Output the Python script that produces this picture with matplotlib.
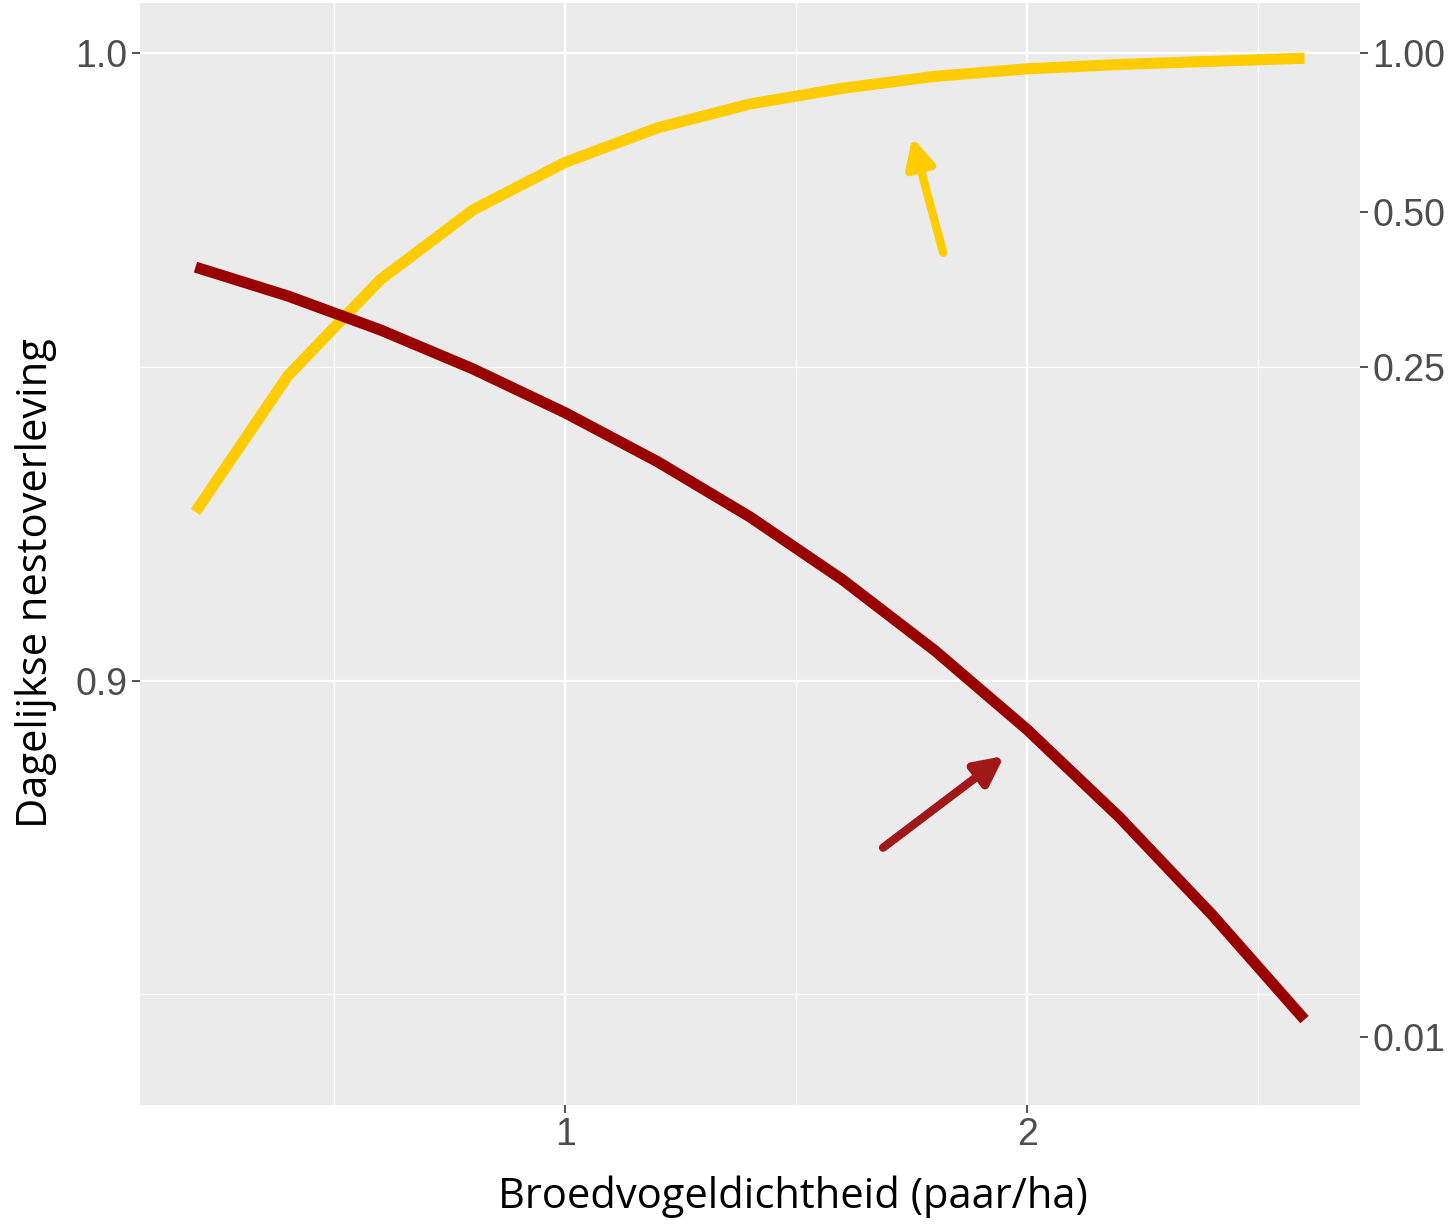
import numpy as np
import matplotlib.pyplot as plt

# dichtheid (paar/ha) en dagelijkse nestoverleving per lijn
dichtheid = [0.2, 0.4, 0.6, 0.8, 1.0, 1.2, 1.4, 1.6, 1.8, 2.0, 2.2, 2.4, 2.6]
geel = [0.9269, 0.9486, 0.9639, 0.9750, 0.9826, 0.9881, 0.9919,
        0.9944, 0.9963, 0.9975, 0.9982, 0.9987, 0.9992]
rood = [0.9659, 0.9613, 0.9559, 0.9497, 0.9427, 0.9349, 0.9261,
        0.9161, 0.9048, 0.8922, 0.8782, 0.8627, 0.8460]

# pijlen: (staart, punt)
pijl_geel = ((1.818, 0.9682), (1.751, 0.9866))
pijl_rood = ((1.688, 0.8734), (1.950, 0.8880))

links_ticks = [0.9, 1.0]
rechts_ticks = [0.01, 0.25, 0.50, 1.00]
exponent = 27  # rechter as = links ** 27

tekst_grijs = "#4D4D4D"

fig = plt.figure(figsize=(14.48, 12.25), dpi=100)
ax = fig.add_axes([0.0967, 0.098, 0.8425, 0.8996])
ax.set_facecolor("#EBEBEB")
for s in ax.spines.values():
    s.set_visible(False)

ax.set_xlim(0.08, 2.72)
ax.set_ylim(0.8324, 1.008)

ax.set_xticks([1, 2])
ax.set_xticks([0.5, 1.5, 2.5], minor=True)
ax.set_yticks(links_ticks)
ax.set_yticks([0.85, 0.95], minor=True)
ax.set_yticklabels(["0.9", "1.0"])
ax.grid(True, which="major", color="white", lw=1.6)
ax.grid(True, which="minor", color="white", lw=0.8)
ax.set_axisbelow(True)
ax.tick_params(which="major", length=6, width=1.2, color="#333333",
               labelsize=27, labelcolor=tekst_grijs, pad=3)
ax.tick_params(which="minor", length=0)
for lab in ax.get_xticklabels() + ax.get_yticklabels():
    lab.set_family("Liberation Sans")

ax.plot(dichtheid, geel, color="#FFCC00", lw=8, solid_capstyle="butt")
ax.plot(dichtheid, rood, color="#990000", lw=8, solid_capstyle="butt")

stijl = "-|>,head_length=1.7,head_width=0.85"
ax.annotate("", xy=pijl_geel[1], xytext=pijl_geel[0],
            arrowprops=dict(arrowstyle=stijl, color="#FFCC00", lw=6,
                            shrinkA=0, shrinkB=0))
ax.annotate("", xy=pijl_rood[1], xytext=pijl_rood[0],
            arrowprops=dict(arrowstyle=stijl, color="#A01818", lw=6,
                            shrinkA=0, shrinkB=0))

sec = ax.secondary_yaxis("right",
                         functions=(lambda v: np.clip(v, 1e-6, None) ** exponent,
                                    lambda v: np.clip(v, 1e-12, None) ** (1 / exponent)))
sec.set_yticks(rechts_ticks)
sec.set_yticklabels(["0.01", "0.25", "0.50", "1.00"])
sec.tick_params(length=6, width=1.2, color="#333333", labelsize=27,
                labelcolor=tekst_grijs, pad=3)
sec.minorticks_off()
for s in sec.spines.values():
    s.set_visible(False)
for lab in sec.get_yticklabels():
    lab.set_family("Liberation Sans")

ax.set_xlabel("Broedvogeldichtheid (paar/ha)", fontsize=30, family="Open Sans")
ax.set_ylabel("Dagelijkse nestoverleving", fontsize=30, family="Open Sans")
ax.xaxis.set_label_coords(0.535, -0.064)
ax.yaxis.set_label_coords(-0.068, 0.474)

fig.savefig("out.png", dpi=100)
